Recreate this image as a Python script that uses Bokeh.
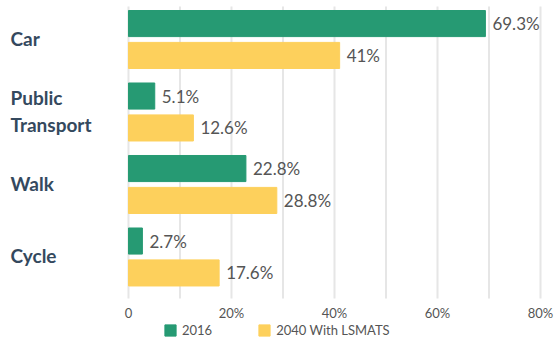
from bokeh.plotting import figure
from bokeh.models import ColumnDataSource, Range1d, Legend, LegendItem
from bokeh.embed import file_html
from bokeh.resources import INLINE
from bokeh.core.properties import value

# Mode share by travel mode
modes = ["Car", "Public\nTransport", "Walk", "Cycle"]
share_2016 = [69.3, 5.1, 22.8, 2.7]
share_2040 = [41, 12.6, 28.8, 17.6]
series_names = ["2016", "2040 With LSMATS"]
tick_values = [0, 20, 40, 60, 80]
tick_labels = ["0", "20%", "40%", "60%", "80%"]
grid_step = 10

GREEN = "#269a73"
YELLOW = "#fdd05c"
FONT = "Lato"
LABEL_GREY = "#555555"
CAT_COLOR = "#34495e"

# vertical layout in category units (one band per mode, top to bottom)
centers = [i + 0.5 for i in range(len(modes))]
offset = 0.22
bar_h = 0.36
grid_top, grid_bottom = 0.045, 4.072
tick_row = 4.266

src16 = ColumnDataSource(dict(
    y=[c - offset for c in centers], v=share_2016,
    label=[f"{v:g}%" for v in share_2016]))
src40 = ColumnDataSource(dict(
    y=[c + offset for c in centers], v=share_2040,
    label=[f"{v:g}%" for v in share_2040]))
cat_src = ColumnDataSource(dict(y=centers, x=[0] * len(modes), name=modes))

grid_x = list(range(0, tick_values[-1] + grid_step, grid_step))
grid_src = ColumnDataSource(dict(x=grid_x,
                                 y0=[grid_top] * len(grid_x),
                                 y1=[grid_bottom] * len(grid_x)))
tick_src = ColumnDataSource(dict(x=tick_values, y=[tick_row] * len(tick_values),
                                 text=tick_labels))

# one frame over the whole canvas; names, ticks and legend sit inside it
p = figure(frame_width=554, frame_height=340,
           x_range=Range1d(-24.854, 82.718), y_range=Range1d(4.652, -0.038),
           output_backend="svg", toolbar_location=None,
           min_border=0)
p.outline_line_color = None
p.background_fill_color = "white"
p.border_fill_color = "white"
p.axis.visible = False
p.grid.visible = False

# vertical grid every 10%
p.segment(x0="x", y0="y0", x1="x", y1="y1", source=grid_src,
          line_color="#e6e6e6", line_width=2)

# percentage tick labels under the grid
p.text(x="x", y="y", text="text", source=tick_src,
       text_align="center", text_baseline="middle",
       text_font=value(FONT), text_font_size="13px", text_color=LABEL_GREY)

r16 = p.hbar(y="y", left=0, right="v", height=bar_h, color=GREEN, source=src16)
r40 = p.hbar(y="y", left=0, right="v", height=bar_h, color=YELLOW, source=src40)

for src in (src16, src40):
    p.text(x="v", y="y", text="label", source=src, x_offset=7,
           text_baseline="middle", text_align="left",
           text_font=value(FONT), text_font_size="17px",
           text_color=LABEL_GREY)

p.text(x="x", y="y", text="name", source=cat_src, x_offset=-118, y_offset=-1,
       text_font=value(FONT), text_font_size="19px",
       text_font_style="bold", text_color=CAT_COLOR,
       text_baseline="middle", text_align="left", text_line_height=1.15)

legend = Legend(items=[LegendItem(label=series_names[0], renderers=[r16]),
                       LegendItem(label=series_names[1], renderers=[r40])],
                location=(163, 2), orientation="horizontal",
                glyph_width=14, glyph_height=14, label_height=14,
                label_standoff=5, spacing=45, padding=0, margin=0,
                border_line_color=None, background_fill_alpha=0,
                label_text_font=FONT, label_text_font_size="13px",
                label_text_color=LABEL_GREY, label_text_baseline="middle")
p.add_layout(legend)

open("out.html", "w").write(file_html(p, INLINE))
